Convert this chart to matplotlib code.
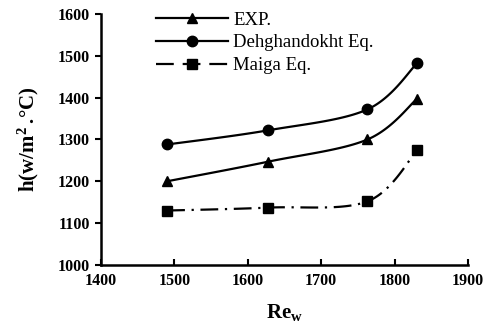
import numpy as np
import matplotlib
matplotlib.use("Agg")
import matplotlib.pyplot as plt
from matplotlib.lines import Line2D

re_w = [1490, 1628, 1763, 1831]
h_exp = [1200, 1247, 1300, 1398]
h_dehghandokht = [1288, 1322, 1372, 1483]
h_maiga = [1130, 1137, 1152, 1275]
labels = ["EXP.", "Dehghandokht Eq.", "Maiga Eq."]
x_ticks = [1400, 1500, 1600, 1700, 1800, 1900]
y_ticks = [1000, 1100, 1200, 1300, 1400, 1500, 1600]

plt.rcParams['font.family'] = ['Liberation Serif', 'DejaVu Serif']
plt.rcParams['mathtext.fontset'] = 'custom'
plt.rcParams['mathtext.rm'] = 'Liberation Serif:bold'
plt.rcParams['mathtext.it'] = 'Liberation Serif:bold'
plt.rcParams['mathtext.bf'] = 'Liberation Serif:bold'


def smooth(x, y, n=40):
    # Excel-like smoothed line (Catmull-Rom Bezier)
    x = np.asarray(x, float); y = np.asarray(y, float)
    px = np.concatenate([[x[0]], x, [x[-1]]])
    py = np.concatenate([[y[0]], y, [y[-1]]])
    xs, ys = [], []
    t = np.linspace(0, 1, n)
    for i in range(1, len(px) - 2):
        p0 = np.array([px[i], py[i]]); p3 = np.array([px[i + 1], py[i + 1]])
        c1 = p0 + (np.array([px[i + 1], py[i + 1]]) - np.array([px[i - 1], py[i - 1]])) / 6
        c2 = p3 - (np.array([px[i + 2], py[i + 2]]) - np.array([px[i], py[i]])) / 6
        b = ((1 - t) ** 3)[:, None] * p0 + (3 * (1 - t) ** 2 * t)[:, None] * c1 \
            + (3 * (1 - t) * t ** 2)[:, None] * c2 + (t ** 3)[:, None] * p3
        xs.append(b[:, 0]); ys.append(b[:, 1])
    return np.concatenate(xs), np.concatenate(ys)


fig = plt.figure(figsize=(4.86, 3.27), dpi=100)
ax = fig.add_axes([0.208, 0.19, 0.755, 0.767])

series = [(h_exp, '^', '-', 7.5), (h_dehghandokht, 'o', '-', 7.5), (h_maiga, 's', (0, (8, 3, 1, 3)), 6.5)]
handles = []
for (vals, mk, ls, ms), lab in zip(series, labels):
    sx, sy = smooth(re_w, vals)
    ax.plot(sx, sy, color='black', lw=1.6, linestyle=ls)
    ax.plot(re_w, vals, linestyle='none', marker=mk, color='black', markersize=ms)
    handles.append(Line2D([0], [0], color='black', lw=1.6,
                          linestyle=('-' if ls == '-' else (0, (8, 4))),
                          marker=mk, markersize=ms, label=lab))

ax.set_xlim(1400, 1900)
ax.set_ylim(1000, 1600)
ax.set_xticks(x_ticks)
ax.set_yticks(y_ticks)
ax.set_xticklabels([str(v) for v in x_ticks], fontweight='bold', fontsize=11.5)
ax.set_yticklabels([str(v) for v in y_ticks], fontweight='bold', fontsize=11.5)
for sp in ['top', 'right']:
    ax.spines[sp].set_visible(False)
for sp in ['left', 'bottom']:
    ax.spines[sp].set_linewidth(1.8)
ax.tick_params(axis='x', direction='in', length=4, width=1.5, pad=6)
ax.tick_params(axis='y', direction='out', length=4, width=1.5, pad=4)

ax.set_xlabel(r'Re$_{\mathregular{w}}$', fontsize=15, fontweight='bold', labelpad=9)
ax.set_ylabel('h(w/m$^{\\mathregular{2}}$\u2009.°C)', fontsize=15, fontweight='bold')
ax.yaxis.set_label_coords(-0.165, 0.5)

ax.legend(handles=handles, loc='upper left', bbox_to_anchor=(0.13, 1.04), frameon=False,
          prop={'size': 13.5}, handlelength=3.8, labelspacing=0.3, handletextpad=0.3,
          borderaxespad=0)

fig.savefig('out.png', dpi=100)
